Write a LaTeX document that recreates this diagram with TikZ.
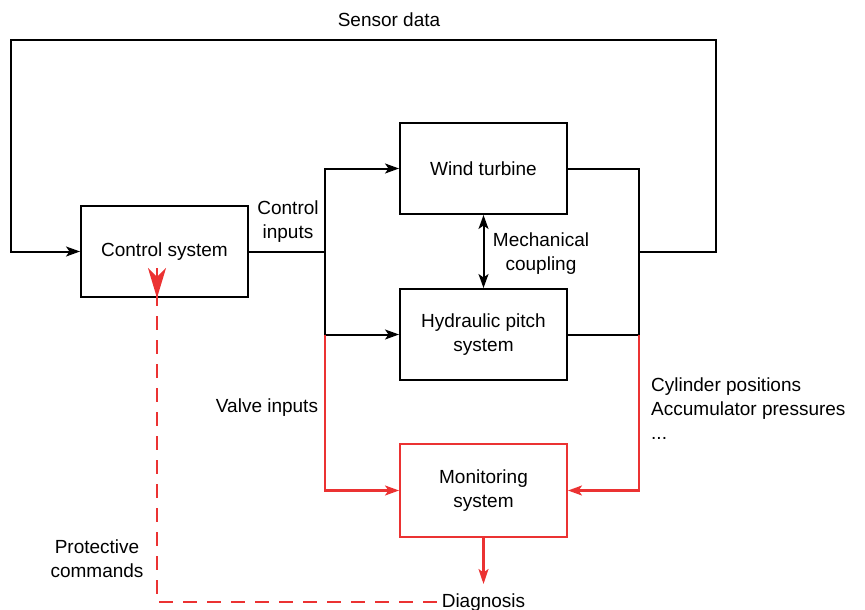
\documentclass[tikz,border=0pt]{standalone}
\usepackage{fontspec}
\setmainfont{Liberation Sans}
\usetikzlibrary{arrows.meta}
\definecolor{myred}{RGB}{235,50,50}
\begin{document}
\begin{tikzpicture}[x=1pt,y=-1pt,
  txt/.style={font=\fontsize{19}{24}\selectfont, align=center, inner sep=1pt},
  blk/.style={txt, draw, line width=2pt, minimum width=167pt, minimum height=91pt},
  ln/.style={line width=2pt},
  rln/.style={line width=2.2pt, draw=myred},
  arr/.style={-{Stealth[length=14pt,width=10pt,inset=3.5pt]}},
  darr/.style={{Stealth[length=14pt,width=10pt,inset=3.5pt]}-{Stealth[length=14pt,width=10pt,inset=3.5pt]}},
  bigarr/.style={-{Stealth[length=30pt,width=18pt,inset=9pt]}},
  rdash/.style={rln, dash pattern=on 14pt off 10pt}]
\useasboundingbox (0,0) rectangle (865,610);

% blocks
\node[blk] (ctrl) at (164.5,251.5) {Control system};
\node[blk] (wt) at (483.5,168.5) {Wind turbine};
\node[blk] (hp) at (483.5,334.5) {Hydraulic pitch\\system};
\node[blk, draw=myred, minimum height=93pt] (mon) at (483.5,490.5) {Monitoring\\system};

% labels
\node[txt] (sens) at (389,20) {Sensor data};
\node[txt] (cin) at (288,222) {Control\\inputs};
\node[txt] (mech) at (541,254) {Mechanical\\coupling};
\node[txt] (valve) at (267,408) {Valve inputs};
\node[txt, anchor=west, align=left] (cyl) at (650,409) {Cylinder positions\\Accumulator pressures\\...};
\node[txt] (prot) at (97,559) {Protective\\commands};
\node[txt, anchor=base] (diag) at (483.5,607) {Diagnosis};

% junction coordinates
\coordinate (cj) at (325,251.5);
\coordinate (vj) at (325,334.5);
\coordinate (sj) at (639,334.5);
\coordinate (sb) at (639,251.5);
\coordinate (s1) at (716,251.5);
\coordinate (s2) at (716,40);
\coordinate (s3) at (11,40);
\coordinate (dj) at (157,602);
\coordinate (de) at (483.5,584);
\coordinate (ct) at ([xshift=-7.5pt]ctrl.south);

% control inputs
\draw[ln] (ctrl.east) -- (cj);
\draw[ln, arr] (cj) |- (wt.west);
\draw[ln, arr] (cj) |- (hp.west);
% outputs
\draw[ln] (wt.east) -| (sj);
\draw[ln] (hp.east) -- (sj);
% sensor loop
\draw[ln, arr] (sb) -- (s1) -- (s2) -- (s3) |- (ctrl.west);
% mechanical coupling
\draw[ln, darr] (wt.south) -- (hp.north);
% monitoring inputs
\draw[rln, arr] (vj) |- (mon.west);
\draw[rln, arr] (sj) |- (mon.east);
% diagnosis
\draw[rln, -{Stealth[length=15pt,width=10pt,inset=3.5pt]}] (mon.south) -- (de);
% protective commands
\draw[rdash] ([xshift=-4pt]diag.west |- dj) -- (dj) -- ([yshift=38pt]ct);
\draw[rln, bigarr] ([yshift=30pt]ct) -- (ct);
\end{tikzpicture}
\end{document}
